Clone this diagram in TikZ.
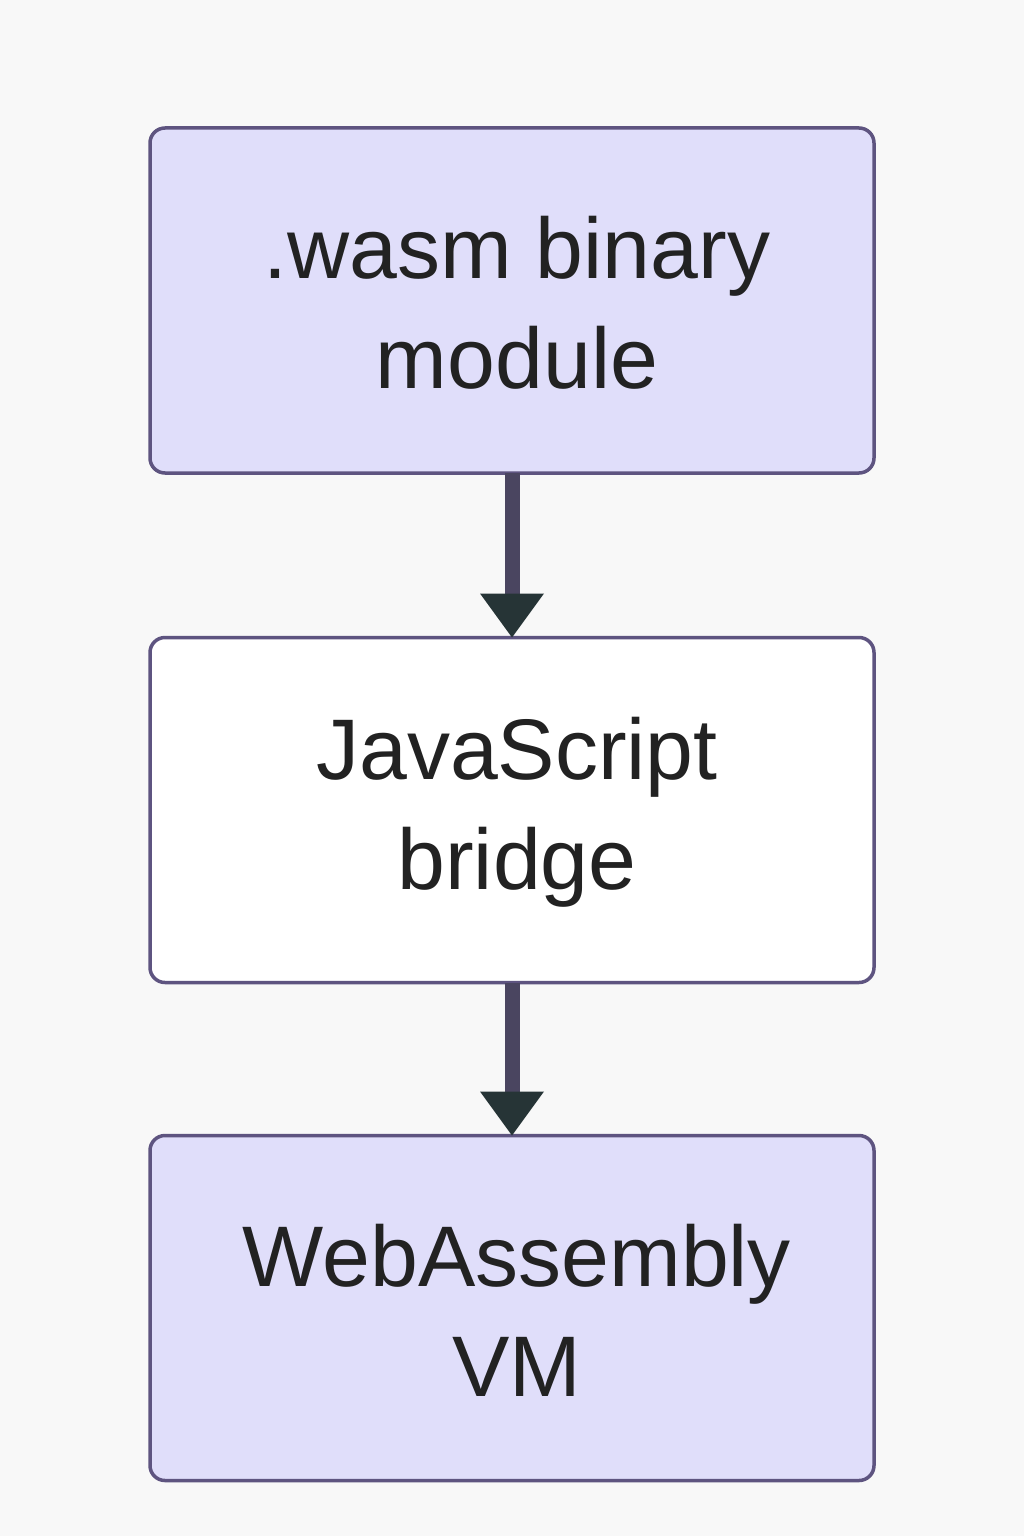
\documentclass[tikz,border=0pt]{standalone}
\usepackage{fontspec}
\setmainfont{Liberation Sans}
\definecolor{bgcol}{HTML}{F8F8F8}
\definecolor{lav}{HTML}{E0DEFA}
\definecolor{bordercol}{HTML}{5E5480}
\definecolor{shaftcol}{HTML}{4A4560}
\definecolor{headcol}{HTML}{263436}
\definecolor{txtcol}{HTML}{222222}
\tikzset{
  stagebox/.style={draw=bordercol, line width=3.5pt, rounded corners=15pt,
    minimum width=724pt, minimum height=345pt, inner sep=0pt, outer sep=0pt},
  stagetext/.style={align=center, text=txtcol, inner sep=0pt,
    font=\fontsize{86}{110}\selectfont, xshift=5pt, yshift=-2pt},
  shaft/.style={draw=shaftcol, line width=15pt},
  headtri/.style={fill=headcol}
}
\begin{document}
\begin{tikzpicture}[x=1pt,y=-1pt]
\fill[bgcol] (0,0) rectangle (1024,1536);
\useasboundingbox (0,0) rectangle (1024,1536);
\node[stagebox, fill=lav, label={[stagetext]center:.wasm binary\\module}] (b1) at (512,300.5) {};
\node[stagebox, fill=white, label={[stagetext]center:JavaScript\\bridge}] (b2) at (512,810) {};
\node[stagebox, fill=lav, label={[stagetext]center:WebAssembly\\VM}] (b3) at (512,1308) {};
\draw[shaft] (b1.south) -- ([yshift=40pt]b2.north);
\fill[headtri] ([xshift=-32pt,yshift=44pt]b2.north) -- ([xshift=32pt,yshift=44pt]b2.north) -- (b2.north) -- cycle;
\draw[shaft] (b2.south) -- ([yshift=40pt]b3.north);
\fill[headtri] ([xshift=-32pt,yshift=44pt]b3.north) -- ([xshift=32pt,yshift=44pt]b3.north) -- (b3.north) -- cycle;
\end{tikzpicture}
\end{document}
